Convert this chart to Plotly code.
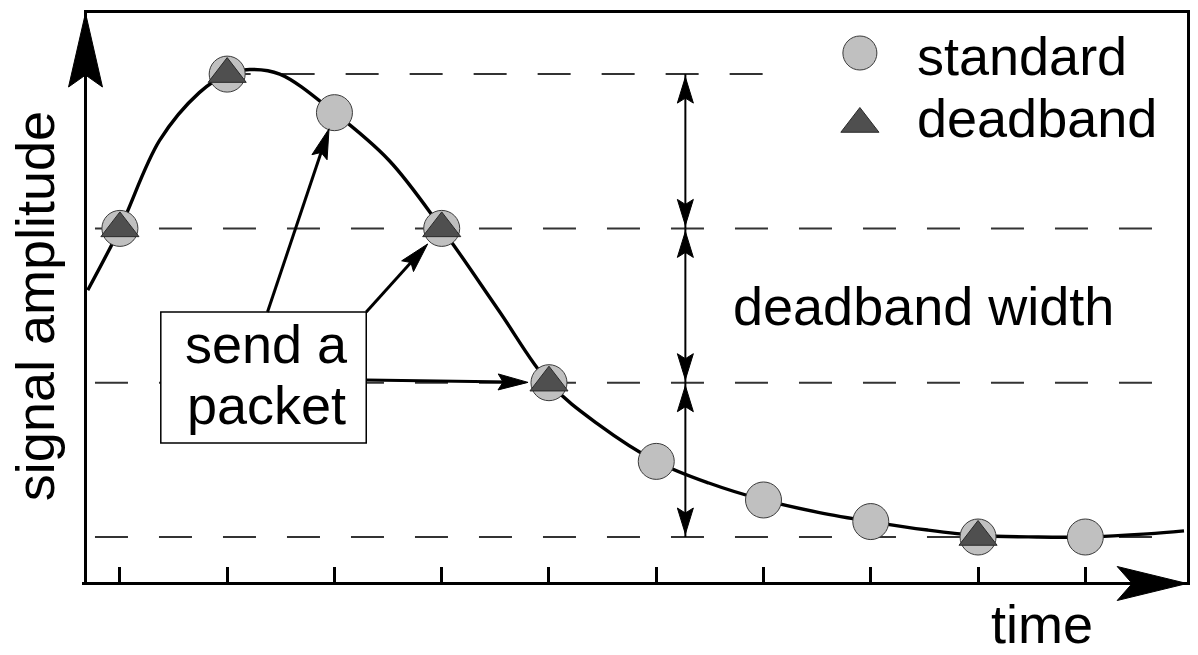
import math
import plotly.graph_objects as go

# ---------------- data ----------------
sample_time = [1, 2, 3, 4, 5, 6, 7, 8, 9, 10]
standard_value = [2.0, 3.0, 2.75, 2.0, 1.0, 0.49, 0.24, 0.10, 0.0, 0.0]
deadband_time = [1, 2, 4, 5, 9]
deadband_value = [2.0, 3.0, 2.0, 1.0, 0.0]
signal_time = [0.70, 1.0, 1.37, 1.74, 2.0, 2.21, 2.49, 3.0, 3.51, 4.0, 4.53, 5.0,
               5.46, 6.0, 6.49, 7.0, 7.51, 8.0, 8.53, 9.0, 9.55, 10.0, 10.58, 10.92]
signal_value = [1.60, 2.0, 2.57, 2.88, 3.0, 3.03, 3.0, 2.75, 2.44, 2.0, 1.47, 1.0,
                0.73, 0.49, 0.35, 0.24, 0.16, 0.10, 0.045, 0.01, 0.0, 0.0, 0.02, 0.04]
deadband_levels = [0, 1, 2, 3]
tick_times = [1, 2, 3, 4, 5, 6, 7, 8, 9, 10]
legend_names = ["standard", "deadband"]
y_label = "signal amplitude"
x_label = "time"
band_label = "deadband width"
callout_lines = ["send a", "packet"]

# ---------------- geometry ----------------
W, H = 1198, 655
ML, MR, MT, MB = 87, 8, 13, 73
T_REF_PX, T_STEP_PX = 120.0, 107.56
A_REF_PX, A_STEP_PX = 537.0, 154.3


def sx(t):
    return T_REF_PX + T_STEP_PX * (t - 1)


def sy(a):
    return A_REF_PX - A_STEP_PX * a


def tx(px):
    return 1 + (px - T_REF_PX) / T_STEP_PX


def ay(py):
    return (A_REF_PX - py) / A_STEP_PX


def PX(px):
    return (px - ML) / (W - ML - MR)


def PY(py):
    return (H - MB - py) / (H - MT - MB)


FONT = "Liberation Sans, Arial, Helvetica, sans-serif"
FS = 54

fig = go.Figure()

fig.add_trace(go.Scatter(x=signal_time, y=signal_value, mode="lines",
                         line=dict(color="black", width=3.4, shape="spline", smoothing=1.0),
                         hoverinfo="skip", showlegend=False))
fig.add_trace(go.Scatter(x=sample_time, y=standard_value, mode="markers", name=legend_names[0],
                         marker=dict(symbol="circle", size=36, color="#c0c0c0",
                                     line=dict(color="#3a3a3a", width=1)),
                         showlegend=False))
fig.add_trace(go.Scatter(x=deadband_time, y=deadband_value, mode="markers", name=legend_names[1],
                         marker=dict(symbol="triangle-up", size=33, color="#4f4f4f",
                                     line=dict(color="#2a2a2a", width=1)),
                         showlegend=False))
# legend keys (drawn manually to keep the large symbols)
fig.add_trace(go.Scatter(x=[tx(862)], y=[ay(53)], mode="markers", hoverinfo="skip",
                         marker=dict(symbol="circle", size=34, color="#c0c0c0",
                                     line=dict(color="#3a3a3a", width=1)), showlegend=False))
fig.add_trace(go.Scatter(x=[tx(862)], y=[ay(124)], mode="markers", hoverinfo="skip",
                         marker=dict(symbol="triangle-up", size=33, color="#4f4f4f",
                                     line=dict(color="#2a2a2a", width=1)), showlegend=False))

shapes = []
# dashed deadband levels
for lv in deadband_levels:
    x0 = tx(218) if lv == max(deadband_levels) else tx(95)
    x1 = tx(770) if lv == max(deadband_levels) else tx(1185)
    shapes.append(dict(type="line", xref="x", yref="y", x0=x0, x1=x1, y0=lv, y1=lv,
                       line=dict(color="#333333", width=2, dash="33px,31px"), layer="below"))

# double arrows for deadband width
t_arrow = tx(687)
for lo, hi in zip(deadband_levels[:-1], deadband_levels[1:]):
    shapes.append(dict(type="line", xref="x", yref="y", x0=t_arrow, x1=t_arrow,
                       y0=lo, y1=hi, line=dict(color="black", width=2)))
    shapes.append(dict(type="path", xref="x", yref="y", xsizemode="pixel", ysizemode="pixel",
                       xanchor=t_arrow, yanchor=hi,
                       path="M0,-3 L-8,-29 L0,-24 L8,-29 Z",
                       fillcolor="black", line=dict(color="black", width=1)))
    shapes.append(dict(type="path", xref="x", yref="y", xsizemode="pixel", ysizemode="pixel",
                       xanchor=t_arrow, yanchor=lo,
                       path="M0,3 L-8,29 L0,24 L8,29 Z",
                       fillcolor="black", line=dict(color="black", width=1)))

# axis arrowheads
ax_x = ML - 1.5
ax_y = H - MB + 1.5
shapes.append(dict(type="path", xref="paper", yref="paper",
                   path="M{},{} L{},{} L{},{} L{},{} Z".format(
                       PX(ax_x), PY(MT), PX(ax_x - 17), PY(MT + 74),
                       PX(ax_x), PY(MT + 62), PX(ax_x + 17), PY(MT + 74)),
                   fillcolor="black", line=dict(color="black", width=1)))
tip_x = W - MR
shapes.append(dict(type="path", xref="paper", yref="paper",
                   path="M{},{} L{},{} L{},{} L{},{} Z".format(
                       PX(tip_x), PY(ax_y), PX(tip_x - 70), PY(ax_y - 17),
                       PX(tip_x - 55), PY(ax_y), PX(tip_x - 70), PY(ax_y + 17)),
                   fillcolor="black", line=dict(color="black", width=1)))
# x-axis line extends slightly left of the y-axis
shapes.append(dict(type="line", xref="paper", yref="paper",
                   x0=PX(82), x1=PX(ML), y0=PY(ax_y), y1=PY(ax_y),
                   line=dict(color="black", width=3)))

# callout box
BX0, BY0, BX1, BY1 = 161, 312, 367, 443
shapes.append(dict(type="rect", xref="paper", yref="paper",
                   x0=PX(BX0), x1=PX(BX1), y0=PY(BY1), y1=PY(BY0),
                   fillcolor="white", line=dict(color="black", width=1.5)))

# callout arrows: (tail px, target point, standoff)
callouts = [((268, BY0), (sample_time[2], standard_value[2]), 17),
            ((BX1, BY0), (deadband_time[2], deadband_value[2]), 21),
            ((BX1, 380), (deadband_time[3], deadband_value[3]), 21)]
for (tx0, ty0), (t, a), stand in callouts:
    cx, cy = sx(t), sy(a)
    dx, dy = cx - tx0, cy - ty0
    L = math.hypot(dx, dy)
    ux, uy = dx / L, dy / L
    px_tip, py_tip = cx - ux * stand, cy - uy * stand
    shaft_end = (px_tip - ux * 14, py_tip - uy * 14)
    shapes.append(dict(type="line", xref="paper", yref="paper",
                       x0=PX(tx0), y0=PY(ty0), x1=PX(shaft_end[0]), y1=PY(shaft_end[1]),
                       line=dict(color="black", width=3)))
    nx, ny = -uy, ux
    bx, by = px_tip - ux * 30, py_tip - uy * 30
    kx, ky = px_tip - ux * 25, py_tip - uy * 25
    hw = 8
    shapes.append(dict(type="path", xref="paper", yref="paper",
                       path="M{},{} L{},{} L{},{} L{},{} Z".format(
                           PX(px_tip), PY(py_tip), PX(bx + nx * hw), PY(by + ny * hw),
                           PX(kx), PY(ky), PX(bx - nx * hw), PY(by - ny * hw)),
                       fillcolor="black", line=dict(color="black", width=1)))

fnt = dict(family=FONT, size=FS, color="black")
annotations = [
    dict(text=y_label, xref="paper", yref="paper", x=PX(35), y=PY(306), textangle=-90,
         showarrow=False, xanchor="center", yanchor="middle", font=fnt),
    dict(text=x_label, xref="paper", yref="paper", x=PX(1045), y=PY(624),
         showarrow=False, xanchor="center", yanchor="middle", font=fnt),
    dict(text=band_label, xref="paper", yref="paper", x=PX(926), y=PY(306),
         showarrow=False, xanchor="center", yanchor="middle", font=fnt),
    dict(text=callout_lines[0], xref="paper", yref="paper", x=PX(267), y=PY(344),
         showarrow=False, xanchor="center", yanchor="middle", font=fnt),
    dict(text=callout_lines[1], xref="paper", yref="paper", x=PX(267), y=PY(405),
         showarrow=False, xanchor="center", yanchor="middle", font=fnt),
    dict(text=legend_names[0], xref="paper", yref="paper", x=PX(917), y=PY(56),
         showarrow=False, xanchor="left", yanchor="middle", font=fnt),
    dict(text=legend_names[1], xref="paper", yref="paper", x=PX(917), y=PY(118),
         showarrow=False, xanchor="left", yanchor="middle", font=fnt),
]

fig.update_layout(
    width=W, height=H, autosize=False,
    margin=dict(l=ML, r=MR, t=MT, b=MB, pad=0),
    paper_bgcolor="white", plot_bgcolor="white",
    showlegend=False, hovermode=False,
    shapes=shapes, annotations=annotations,
    xaxis=dict(range=[tx(ML), tx(W - MR)], showgrid=False, zeroline=False,
               showline=True, linewidth=3, linecolor="black", mirror=True,
               ticks="inside", ticklen=15, tickwidth=3, tickcolor="black",
               tickvals=tick_times, showticklabels=False, fixedrange=True),
    yaxis=dict(range=[ay(H - MB), ay(MT)], showgrid=False, zeroline=False,
               showline=True, linewidth=3, linecolor="black", mirror=True,
               ticks="", showticklabels=False, fixedrange=True),
)

fig.write_html("out.html", config={"displayModeBar": False},
               post_script="document.body.style.margin='0';document.body.style.overflow='hidden';")
